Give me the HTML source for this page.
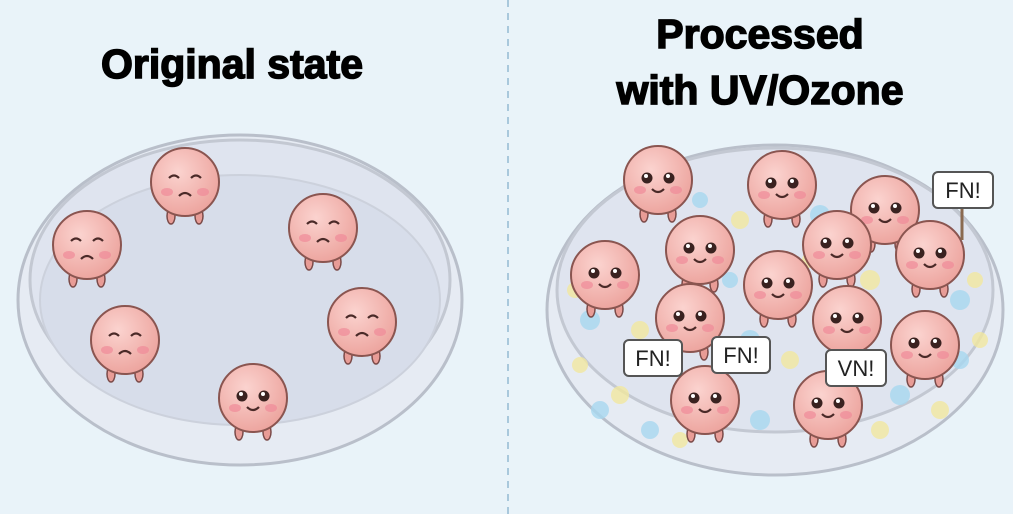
<!DOCTYPE html>
<html><head><meta charset="utf-8"><style>
html,body{margin:0;padding:0;background:#e9f3f9;}
svg{display:block}
text{font-family:"Liberation Sans",Arial,sans-serif;}
</style></head><body>
<svg width="1013" height="514" viewBox="0 0 1013 514" xmlns="http://www.w3.org/2000/svg">
<defs>
<radialGradient id="pk" cx="40%" cy="35%" r="70%"><stop offset="0" stop-color="#fbd3cf"/><stop offset="1" stop-color="#eca29c"/></radialGradient>
<g id="cr">
 <ellipse cx="-14" cy="34" rx="4" ry="8" fill="#e89c96" stroke="#7a4a48" stroke-width="1.5"/>
 <ellipse cx="14" cy="34" rx="4" ry="8" fill="#e89c96" stroke="#7a4a48" stroke-width="1.5"/>
 <circle r="34" fill="url(#pk)" stroke="#8a5550" stroke-width="2"/>
 <ellipse cx="-18" cy="10" rx="6" ry="4" fill="#f08a98" opacity=".7"/>
 <ellipse cx="18" cy="10" rx="6" ry="4" fill="#f08a98" opacity=".7"/>
</g>
<g id="sad"><use href="#cr"/><path d="M-16 -4 q5 -5 10 0 M6 -4 q5 -5 10 0 M-6 14 q6 -6 12 0" stroke="#4a2a28" stroke-width="2.2" fill="none"/></g>
<g id="happy"><use href="#cr"/><circle cx="-11" cy="-2" r="5.5" fill="#3a2220"/><circle cx="11" cy="-2" r="5.5" fill="#3a2220"/><circle cx="-12" cy="-4" r="2" fill="#fff"/><circle cx="10" cy="-4" r="2" fill="#fff"/><path d="M-6 9 q6 6 12 0" stroke="#4a2a28" stroke-width="2.2" fill="none"/></g>
</defs>
<line x1="508" y1="0" x2="508" y2="514" stroke="#a9c8dc" stroke-width="2" stroke-dasharray="7 6"/>
<g font-weight="bold" text-anchor="middle" fill="#000" stroke="#000" stroke-width="1.5">
<text x="232" y="78" font-size="41">Original state</text>
<text x="760" y="48" font-size="41">Processed</text>
<text x="760" y="104" font-size="41">with UV/Ozone</text>
</g>
<!-- left dish -->
<ellipse cx="240" cy="300" rx="222" ry="165" fill="#e6ebf3" stroke="#b9bfca" stroke-width="3"/>
<ellipse cx="240" cy="280" rx="210" ry="140" fill="#dfe4ef" stroke="#c3c8d2" stroke-width="3"/>
<ellipse cx="240" cy="300" rx="200" ry="125" fill="#d7ddea" stroke="#ccd1dc" stroke-width="2"/>
<use href="#sad" x="87" y="245"/><use href="#sad" x="185" y="182"/><use href="#sad" x="323" y="228"/>
<use href="#sad" x="362" y="322"/><use href="#sad" x="125" y="340"/><use href="#happy" x="253" y="398"/>
<!-- right dish -->
<ellipse cx="775" cy="310" rx="228" ry="165" fill="#e6ebf3" stroke="#b9bfca" stroke-width="3"/>
<ellipse cx="775" cy="290" rx="218" ry="142" fill="#dfe4ef" stroke="#c3c8d2" stroke-width="3"/>
<g opacity=".8">
<circle cx="610" cy="250" r="10" fill="#a8d8f0"/><circle cx="640" cy="330" r="9" fill="#f2e8a0"/><circle cx="590" cy="320" r="10" fill="#a8d8f0"/>
<circle cx="740" cy="220" r="9" fill="#f2e8a0"/><circle cx="820" cy="215" r="10" fill="#a8d8f0"/><circle cx="870" cy="280" r="10" fill="#f2e8a0"/>
<circle cx="960" cy="300" r="10" fill="#a8d8f0"/><circle cx="750" cy="340" r="10" fill="#a8d8f0"/><circle cx="790" cy="360" r="9" fill="#f2e8a0"/>
<circle cx="900" cy="395" r="10" fill="#a8d8f0"/><circle cx="620" cy="395" r="9" fill="#f2e8a0"/><circle cx="760" cy="420" r="10" fill="#a8d8f0"/>
<circle cx="880" cy="430" r="9" fill="#f2e8a0"/><circle cx="980" cy="340" r="8" fill="#f2e8a0"/><circle cx="580" cy="365" r="8" fill="#f2e8a0"/>
<circle cx="700" cy="200" r="8" fill="#a8d8f0"/><circle cx="960" cy="360" r="9" fill="#a8d8f0"/><circle cx="650" cy="430" r="9" fill="#a8d8f0"/>
<circle cx="575" cy="290" r="8" fill="#f2e8a0"/><circle cx="600" cy="410" r="9" fill="#a8d8f0"/><circle cx="680" cy="440" r="8" fill="#f2e8a0"/>
<circle cx="860" cy="370" r="8" fill="#a8d8f0"/><circle cx="940" cy="410" r="9" fill="#f2e8a0"/><circle cx="975" cy="280" r="8" fill="#f2e8a0"/>
<circle cx="730" cy="280" r="8" fill="#a8d8f0"/><circle cx="810" cy="260" r="8" fill="#f2e8a0"/><circle cx="720" cy="380" r="8" fill="#f2e8a0"/>
</g>
<use href="#happy" x="658" y="180"/><use href="#happy" x="782" y="185"/><use href="#happy" x="885" y="210"/>
<use href="#happy" x="700" y="250"/><use href="#happy" x="837" y="245"/><use href="#happy" x="930" y="255"/>
<use href="#happy" x="605" y="275"/><use href="#happy" x="778" y="285"/><use href="#happy" x="690" y="318"/>
<use href="#happy" x="847" y="320"/><use href="#happy" x="925" y="345"/><use href="#happy" x="705" y="400"/><use href="#happy" x="828" y="405"/>
<g font-size="22" text-anchor="middle" fill="#222">
<line x1="962" y1="205" x2="962" y2="240" stroke="#8a6a50" stroke-width="3"/>
<rect x="933" y="172" width="60" height="36" rx="5" fill="#fff" stroke="#555" stroke-width="2"/><text x="963" y="198">FN!</text>
<rect x="624" y="340" width="58" height="36" rx="5" fill="#fff" stroke="#555" stroke-width="2"/><text x="653" y="366">FN!</text>
<rect x="712" y="337" width="58" height="36" rx="5" fill="#fff" stroke="#555" stroke-width="2"/><text x="741" y="363">FN!</text>
<rect x="826" y="350" width="60" height="36" rx="5" fill="#fff" stroke="#555" stroke-width="2"/><text x="856" y="376">VN!</text>
</g>
</svg>
</body></html>
